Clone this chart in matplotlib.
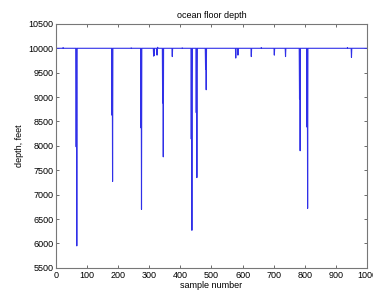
import numpy as np
import matplotlib
matplotlib.use('Agg')
import matplotlib.pyplot as plt

n_samples = 1000
baseline = 10000

# spikes: sample index -> depth (feet)
spike_idx = [22, 64, 66, 179, 181, 241, 272, 274, 313, 315, 324, 326,
             342, 344, 373, 405, 434, 436, 450, 452, 480, 482, 577, 584,
             627, 659, 701, 737, 782, 784, 806, 808, 936, 949]
spike_depth = [10015, 7980, 5950, 8630, 7270, 10010, 8370, 6700, 9840, 9850, 9860, 10020,
               8880, 7775, 9830, 10010, 8140, 6270, 8680, 7350, 9575, 9150, 9800, 9860,
               9830, 10015, 9860, 9830, 8965, 7900, 8385, 6720, 10015, 9815]

depth = np.full(n_samples, baseline, dtype=float)
depth[spike_idx] = spike_depth
samples = np.arange(1, n_samples + 1)

plt.rcParams['font.family'] = ['Liberation Sans', 'DejaVu Sans']
fig = plt.figure(figsize=(3.73, 2.95), dpi=100)
ax = fig.add_axes([0.150, 0.092, 0.834, 0.827])

ax.plot(samples, depth, color='#3030e8', lw=0.8)

ax.set_xlim(0, 1000)
ax.set_ylim(5500, 10500)
ax.set_xticks(np.arange(0, 1001, 100))
ax.set_yticks(np.arange(5500, 10501, 500))
ax.tick_params(direction='in', top=True, right=True, labelsize=6.5,
               length=2.5, width=0.6, color='#555555', pad=2)
for s in ax.spines.values():
    s.set_color('#777777')
    s.set_linewidth(0.8)

ax.set_title('ocean floor depth', fontsize=6.5, pad=4)
ax.set_xlabel('sample number', fontsize=6.5, labelpad=1)
ax.set_ylabel('depth, feet', fontsize=6.5, labelpad=3)

fig.savefig('out.png', dpi=100)
